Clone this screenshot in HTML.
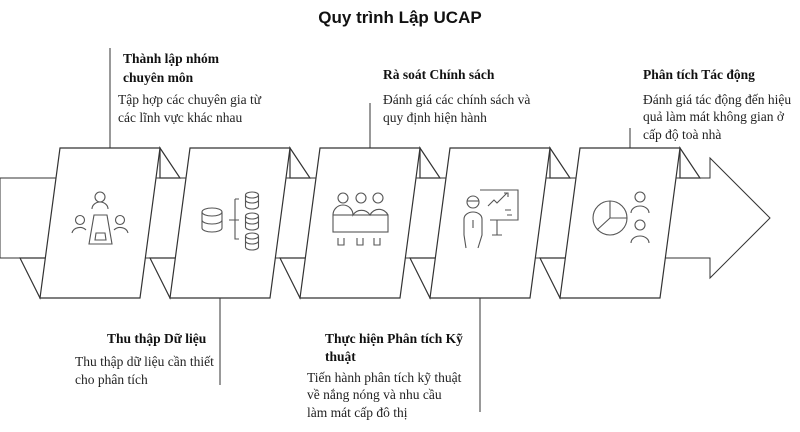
<!DOCTYPE html>
<html><head><meta charset="utf-8"><style>
body{margin:0;background:#fff;width:800px;height:427px;overflow:hidden}
.t{font-family:"Liberation Serif",serif;font-size:13.5px;fill:#222}
.b{font-weight:bold;fill:#111}
</style></head><body>
<svg width="800" height="427" viewBox="0 0 800 427" xmlns="http://www.w3.org/2000/svg">
<text x="400" y="23" text-anchor="middle" font-family="Liberation Sans,sans-serif" font-weight="bold" font-size="17" fill="#111">Quy trình Lập UCAP</text>
<g stroke="#333" stroke-width="1" fill="none">
<!-- connectors -->
<line x1="110" y1="48" x2="110" y2="148"/>
<line x1="220" y1="298" x2="220" y2="385"/>
<line x1="370" y1="103" x2="370" y2="148"/>
<line x1="480" y1="298" x2="480" y2="412"/>
<line x1="630" y1="128" x2="630" y2="148"/>
<!-- band and arrow -->
<path d="M0 178 H710 V158 L770 218 L710 278 V258 H0 Z" fill="#fff"/>
</g>
<g stroke="#333" stroke-width="1.2" fill="#fff">
<g id="p">
<path d="M160 148 L180 178 L160 178 Z"/>
<path d="M20 258 L40 298 L50 258 Z"/>
<path d="M60 148 H160 L140 298 H40 Z"/>
</g>
<use href="#p" x="130"/>
<use href="#p" x="260"/>
<use href="#p" x="390"/>
<use href="#p" x="520"/>
</g>
<!-- icons -->
<g stroke="#555" stroke-width="1.1" fill="none">
<!-- icon1 meeting -->
<circle cx="100" cy="197" r="5"/><path d="M92 209 a8 7 0 0 1 16 0"/>
<circle cx="80" cy="220" r="4.5"/><path d="M72 233 a8 7 0 0 1 14 -3"/>
<circle cx="120" cy="220" r="4.5"/><path d="M128 233 a8 7 0 0 0 -14 -3"/>
<path d="M94 215 H107 L112 244 H89 Z"/><path d="M96 233 H105 L106 240 H95 Z"/>
<!-- icon2 db -->
<ellipse cx="212" cy="212" rx="10" ry="4"/><path d="M202 212 V228 a10 4 0 0 0 20 0 V212 M202 220 a10 4 0 0 0 20 0"/>
<path d="M229 220 H239 M235 199 V239 H239 M235 199 H239"/>
<g id="c"><ellipse cx="252" cy="195" rx="6.5" ry="3"/><path d="M245.5 195 V206 a6.5 3 0 0 0 13 0 V195 M245.5 200 a6.5 3 0 0 0 13 0"/></g>
<use href="#c" y="21"/><use href="#c" y="41"/>
<!-- icon3 audience -->
<circle cx="343" cy="198" r="5"/><circle cx="361" cy="198" r="5"/><circle cx="378" cy="198" r="5"/>
<path d="M333 215 a10 10 0 0 1 20 0 a10 10 0 0 1 17 0 a10 10 0 0 1 18 0"/>
<rect x="333" y="215" width="55" height="17"/>
<path d="M338 238 v7 h6 v-7 M357 238 v7 h6 v-7 M374 238 v7 h6 v-7"/>
<!-- icon4 presenter -->
<circle cx="473" cy="202" r="6"/><path d="M467 201 h12"/>
<path d="M466 248 L464 235 V219 a9 7 0 0 1 18 0 V235 L478 248 M473 220 v8"/>
<path d="M480 190 H518 V220 H490"/><path d="M488 206 l6 -6 l3 3 l10 -10 M504 193 h4 v4"/><path d="M505 210 h6 M507 215 h5"/>
<path d="M497 220 V235 M492 235 H502"/>
<!-- icon5 pie -->
<circle cx="610" cy="218" r="17"/><path d="M610 201 V218 H627 M610 218 L597 230"/>
<circle cx="640" cy="197" r="5"/><path d="M631 213 a9 7 0 0 1 18 0"/>
<circle cx="640" cy="225" r="5"/><path d="M631 243 a9 7 0 0 1 18 0"/>
</g>
<!-- texts -->
<text class="t b" x="123" y="63">Thành lập nhóm</text>
<text class="t b" x="123" y="82">chuyên môn</text>
<text class="t" x="118" y="104">Tập hợp các chuyên gia từ</text>
<text class="t" x="118" y="122">các lĩnh  vực khác nhau</text>
<text class="t b" x="383" y="79">Rà soát Chính sách</text>
<text class="t" x="383" y="104">Đánh giá các chính sách và</text>
<text class="t" x="383" y="122">quy định hiện hành</text>
<text class="t b" x="643" y="79">Phân tích Tác động</text>
<text class="t" x="643" y="104">Đánh giá tác động đến hiệu</text>
<text class="t" x="643" y="121">quả làm mát không gian ở</text>
<text class="t" x="643" y="139">cấp độ toà nhà</text>
<text class="t b" x="107" y="343">Thu thập Dữ liệu</text>
<text class="t" x="75" y="366">Thu thập dữ liệu cần thiết</text>
<text class="t" x="75" y="384">cho phân tích</text>
<text class="t b" x="325" y="343">Thực hiện Phân tích Kỹ</text>
<text class="t b" x="325" y="361">thuật</text>
<text class="t" x="307" y="382">Tiến hành phân tích kỹ thuật</text>
<text class="t" x="307" y="399">về nắng nóng và nhu cầu</text>
<text class="t" x="307" y="417">làm mát cấp đô thị</text>
</svg>
</body></html>
